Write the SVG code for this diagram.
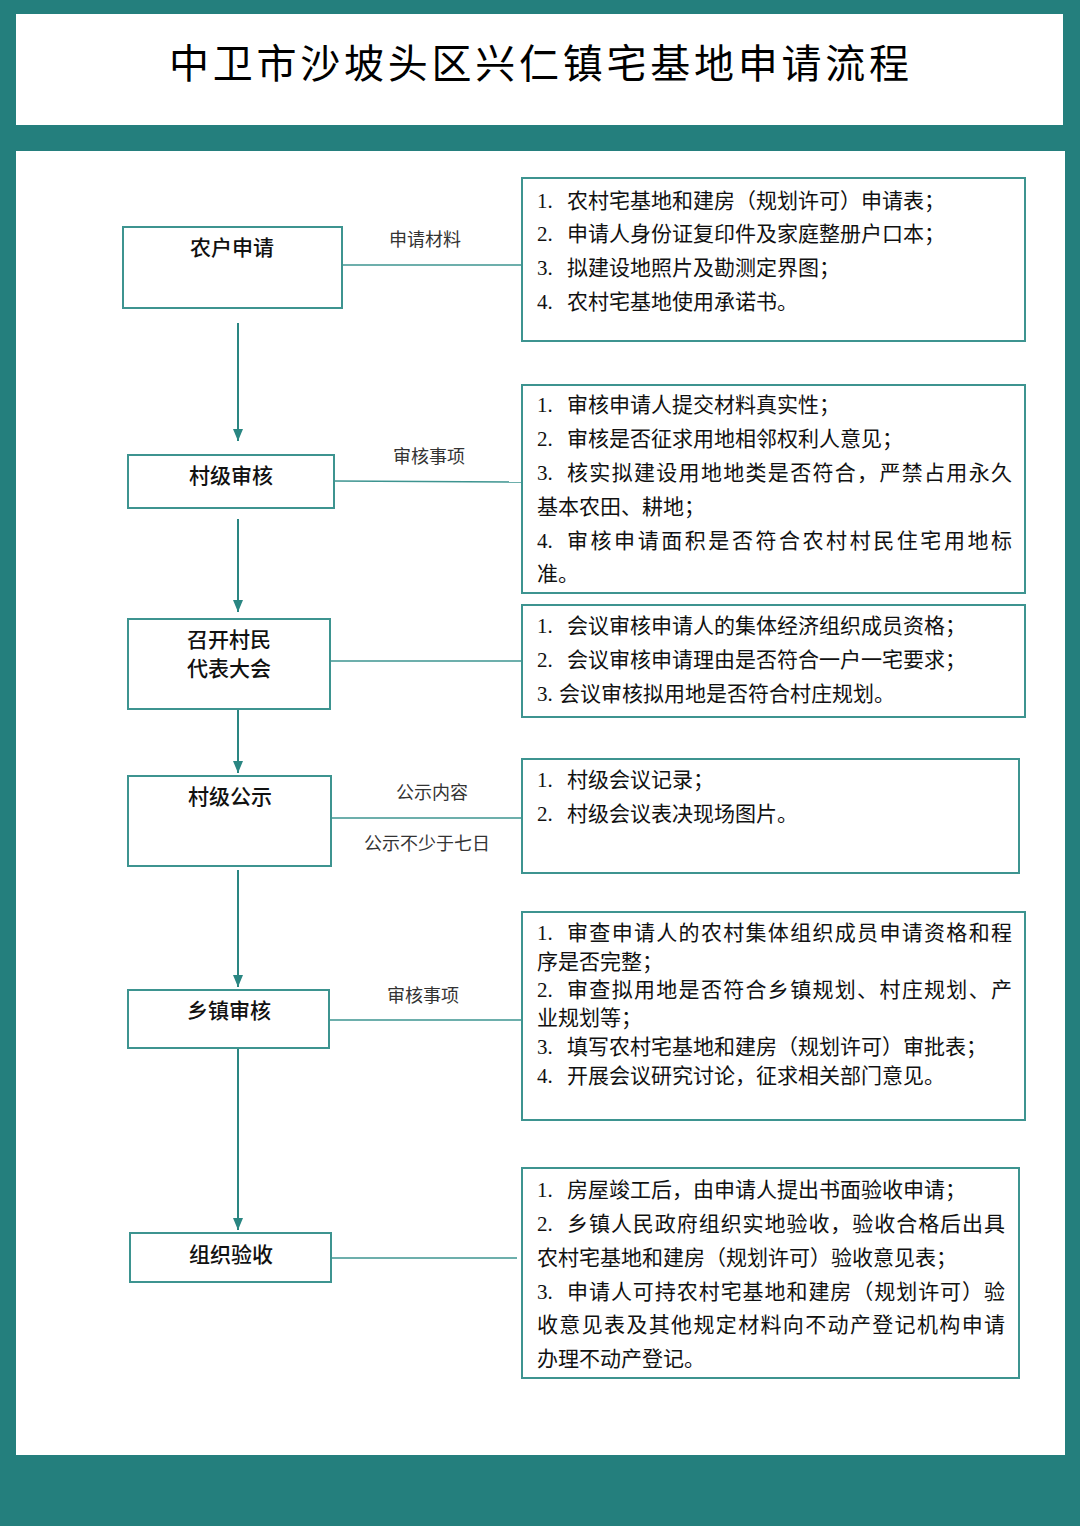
<svg xmlns="http://www.w3.org/2000/svg" width="1080" height="1526" viewBox="0 0 1080 1526">
<defs>
<style>
.node rect{fill:#ffffff;stroke:#3d9490;stroke-width:2}
.info rect{fill:#ffffff;stroke:#3d9490;stroke-width:2}
.lbl{font-family:"Noto Sans CJK SC","Liberation Sans",sans-serif;font-size:21px;fill:#111;text-anchor:middle;font-weight:500}
.txt{font-family:"Liberation Serif","Noto Sans CJK SC",serif;font-size:21px;fill:#111}
.cl{font-family:"Noto Sans CJK SC","Liberation Sans",sans-serif;font-size:18px;fill:#333;text-anchor:middle}
.v{stroke:#2a8682;stroke-width:2;fill:none}
.h{stroke:#3d9490;stroke-width:1.6;fill:none}
</style>
<marker id="ah" viewBox="0 0 12 10" refX="12" refY="5" markerWidth="12" markerHeight="10" markerUnits="userSpaceOnUse" orient="auto">
<path d="M0,0 L12,5 L0,10 Z" fill="#2a8682"/>
</marker>
</defs>
<rect x="0" y="0" width="1080" height="1526" fill="#247f7d"/>
<rect x="16" y="14" width="1047" height="111" fill="#ffffff"/>
<rect x="16" y="151" width="1049" height="1304" fill="#ffffff"/>
<text x="169" y="78" textLength="740" lengthAdjust="spacing" style="font-family:'Noto Sans CJK SC',sans-serif;font-size:40px;fill:#000">中卫市沙坡头区兴仁镇宅基地申请流程</text>

<g id="connectors">
<line class="v" x1="238" y1="323" x2="238" y2="441" marker-end="url(#ah)"/>
<line class="v" x1="238" y1="519" x2="238" y2="612" marker-end="url(#ah)"/>
<line class="v" x1="238" y1="709" x2="238" y2="773" marker-end="url(#ah)"/>
<line class="v" x1="238" y1="870" x2="238" y2="987" marker-end="url(#ah)"/>
<line class="v" x1="238" y1="1048" x2="238" y2="1230" marker-end="url(#ah)"/>
<line class="h" x1="342" y1="265" x2="522" y2="265"/>
<line class="h" x1="334" y1="481" x2="522" y2="482"/>
<line class="h" x1="330" y1="661" x2="522" y2="661"/>
<line class="h" x1="331" y1="818" x2="522" y2="818"/>
<line class="h" x1="329" y1="1020" x2="522" y2="1020"/>
<line class="h" x1="331" y1="1258" x2="517" y2="1258"/>
<text class="cl" x="425" y="246">申请材料</text>
<text class="cl" x="429" y="463">审核事项</text>
<text class="cl" x="432" y="799">公示内容</text>
<text class="cl" x="427" y="850">公示不少于七日</text>
<text class="cl" x="423" y="1002">审核事项</text>
</g>

<g id="n1" class="node"><rect x="123" y="227" width="219" height="81"/><text class="lbl" x="232" y="255">农户申请</text></g>
<g id="n2" class="node"><rect x="128" y="455" width="206" height="53"/><text class="lbl" x="231" y="483">村级审核</text></g>
<g id="n3" class="node"><rect x="128" y="619" width="202" height="90"/><text class="lbl" x="229" y="647">召开村民</text><text class="lbl" x="229" y="676">代表大会</text></g>
<g id="n4" class="node"><rect x="128" y="776" width="203" height="90"/><text class="lbl" x="230" y="804">村级公示</text></g>
<g id="n5" class="node"><rect x="128" y="990" width="201" height="58"/><text class="lbl" x="229" y="1018">乡镇审核</text></g>
<g id="n6" class="node"><rect x="130" y="1233" width="201" height="49"/><text class="lbl" x="231" y="1262">组织验收</text></g>

<g id="i1" class="info"><rect x="522" y="178" width="503" height="163"/>
<text class="txt" y="207.5"><tspan x="537">1.</tspan><tspan x="567">农村宅基地和建房（规划许可）申请表；</tspan></text>
<text class="txt" y="240.5"><tspan x="537">2.</tspan><tspan x="567">申请人身份证复印件及家庭整册户口本；</tspan></text>
<text class="txt" y="274.5"><tspan x="537">3.</tspan><tspan x="567">拟建设地照片及勘测定界图；</tspan></text>
<text class="txt" y="308.5"><tspan x="537">4.</tspan><tspan x="567">农村宅基地使用承诺书。</tspan></text>
</g>
<g id="i2" class="info"><rect x="522" y="385" width="503" height="208"/>
<text class="txt" y="412"><tspan x="537">1.</tspan><tspan x="567">审核申请人提交材料真实性；</tspan></text>
<text class="txt" y="446"><tspan x="537">2.</tspan><tspan x="567">审核是否征求用地相邻权利人意见；</tspan></text>
<text class="txt" y="480"><tspan x="537">3.</tspan><tspan x="567" textLength="445" lengthAdjust="spacing">核实拟建设用地地类是否符合，严禁占用永久</tspan></text>
<text class="txt" x="537" y="514">基本农田、耕地；</text>
<text class="txt" y="548"><tspan x="537">4.</tspan><tspan x="567" textLength="445" lengthAdjust="spacing">审核申请面积是否符合农村村民住宅用地标</tspan></text>
<text class="txt" x="537" y="581">准。</text>
</g>
<g id="i3" class="info"><rect x="522" y="605" width="503" height="112"/>
<text class="txt" y="633"><tspan x="537">1.</tspan><tspan x="567">会议审核申请人的集体经济组织成员资格；</tspan></text>
<text class="txt" y="667"><tspan x="537">2.</tspan><tspan x="567">会议审核申请理由是否符合一户一宅要求；</tspan></text>
<text class="txt" y="701"><tspan x="537">3.</tspan><tspan x="559">会议审核拟用地是否符合村庄规划。</tspan></text>
</g>
<g id="i4" class="info"><rect x="522" y="759" width="497" height="114"/>
<text class="txt" y="787"><tspan x="537">1.</tspan><tspan x="567">村级会议记录；</tspan></text>
<text class="txt" y="821"><tspan x="537">2.</tspan><tspan x="567">村级会议表决现场图片。</tspan></text>
</g>
<g id="i5" class="info"><rect x="522" y="912" width="503" height="208"/>
<text class="txt" y="940"><tspan x="537">1.</tspan><tspan x="567" textLength="445" lengthAdjust="spacing">审查申请人的农村集体组织成员申请资格和程</tspan></text>
<text class="txt" x="537" y="969">序是否完整；</text>
<text class="txt" y="997"><tspan x="537">2.</tspan><tspan x="567" textLength="445" lengthAdjust="spacing">审查拟用地是否符合乡镇规划、村庄规划、产</tspan></text>
<text class="txt" x="537" y="1025">业规划等；</text>
<text class="txt" y="1054"><tspan x="537">3.</tspan><tspan x="567">填写农村宅基地和建房（规划许可）审批表；</tspan></text>
<text class="txt" y="1083"><tspan x="537">4.</tspan><tspan x="567">开展会议研究讨论，征求相关部门意见。</tspan></text>
</g>
<g id="i6" class="info"><rect x="522" y="1168" width="497" height="210"/>
<text class="txt" y="1197"><tspan x="537">1.</tspan><tspan x="567">房屋竣工后，由申请人提出书面验收申请；</tspan></text>
<text class="txt" y="1231"><tspan x="537">2.</tspan><tspan x="567" textLength="438" lengthAdjust="spacing">乡镇人民政府组织实地验收，验收合格后出具</tspan></text>
<text class="txt" x="537" y="1265">农村宅基地和建房（规划许可）验收意见表；</text>
<text class="txt" y="1299"><tspan x="537">3.</tspan><tspan x="567" textLength="438" lengthAdjust="spacing">申请人可持农村宅基地和建房（规划许可）验</tspan></text>
<text class="txt" x="537" y="1332" textLength="468" lengthAdjust="spacing">收意见表及其他规定材料向不动产登记机构申请</text>
<text class="txt" x="537" y="1366">办理不动产登记。</text>
</g>
</svg>
